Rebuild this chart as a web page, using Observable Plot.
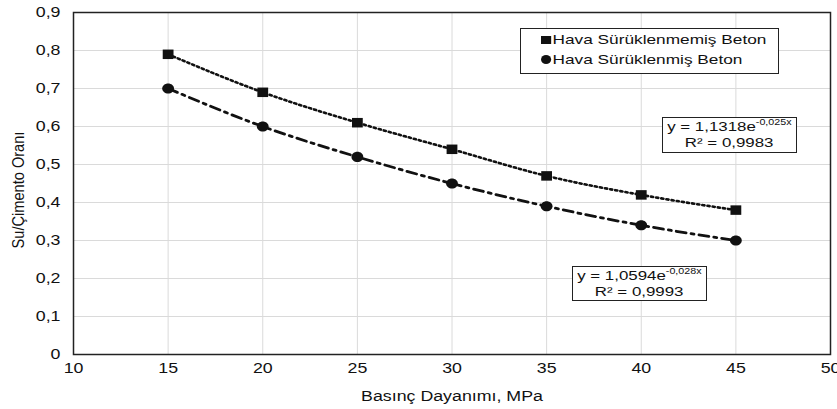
<!DOCTYPE html>
<html>
<head>
<meta charset="utf-8">
<script src="https://cdn.jsdelivr.net/npm/d3@7"></script>
<script src="https://cdn.jsdelivr.net/npm/@observablehq/plot@0.6"></script>
<style>
  html, body { margin: 0; padding: 0; background: #fff; }
  #wrap { position: relative; width: 837px; height: 409px; font-family: "Liberation Sans", Arial, sans-serif; color: #111; }
  .box { position: absolute; border: 1.5px solid #222; background: #fff; box-sizing: border-box; }
  .eq { text-align: center; font-size: 13.4px; line-height: 16px; padding-top: 1px; }
  .eq .s { display: inline-block; transform: scaleX(1.26); transform-origin: 50% 50%; white-space: nowrap; }
  .eq sup { font-size: 8.5px; vertical-align: 6px; line-height: 0; }
  .leg { padding-left: 20px; font-size: 13.6px; line-height: 20px; padding-top: 1px; }
  .leg .s { display: inline-block; transform: scaleX(1.27); transform-origin: 0 50%; white-space: nowrap; }
  .leg .m { display: inline-block; width: 8px; height: 8.5px; background: #111; margin-right: 1px; vertical-align: 0px; }
  .leg .c { border-radius: 50%; height: 9px; }
  .ylab { position: absolute; left: 19px; top: 190px; font-size: 14.6px; white-space: nowrap; transform: translate(-50%, -50%) rotate(-90deg) scaleY(1.08); }
</style>
</head>
<body>
<div id="wrap"></div>
<script>
const strength = [15, 20, 25, 30, 35, 40, 45];
const nonAirEntrained = [0.79, 0.69, 0.61, 0.54, 0.47, 0.42, 0.38];
const airEntrained = [0.70, 0.60, 0.52, 0.45, 0.39, 0.34, 0.30];
const seriesNames = ["Hava Sürüklenmemiş Beton", "Hava Sürüklenmiş Beton"];
const xTicks = [10, 15, 20, 25, 30, 35, 40, 45, 50];
const yTicks = [0, 0.1, 0.2, 0.3, 0.4, 0.5, 0.6, 0.7, 0.8, 0.9];
const xTitle = "Basınç Dayanımı, MPa";
const yTitle = "Su/Çimento Oranı";

const dataA = strength.map((x, i) => ({x, y: nonAirEntrained[i]}));
const dataB = strength.map((x, i) => ({x, y: airEntrained[i]}));

const fmt = d => d === 0 ? "0" : d.toFixed(1).replace(".", ",");

// slightly wide marker shapes (the reference is horizontally stretched)
const wideSquare = {draw(ctx, size) { const r = Math.sqrt(size / Math.PI); const w = r, h = r * 0.88; ctx.moveTo(-w, -h); ctx.lineTo(w, -h); ctx.lineTo(w, h); ctx.lineTo(-w, h); ctx.closePath(); }};
const wideCircle = {draw(ctx, size) {
  const r = Math.sqrt(size / Math.PI); const a = r, b = r * 0.86, k = 0.5523;
  ctx.moveTo(a, 0);
  ctx.bezierCurveTo(a, b * k, a * k, b, 0, b);
  ctx.bezierCurveTo(-a * k, b, -a, b * k, -a, 0);
  ctx.bezierCurveTo(-a, -b * k, -a * k, -b, 0, -b);
  ctx.bezierCurveTo(a * k, -b, a, -b * k, a, 0);
  ctx.closePath();
}};

const chart = Plot.plot({
  width: 837,
  height: 409,
  marginLeft: 73,
  marginRight: 7,
  marginTop: 12,
  marginBottom: 55,
  style: {fontFamily: "Liberation Sans, Arial, sans-serif", fontSize: "14px", color: "#111", background: "#fff"},
  x: {domain: [10, 50], ticks: xTicks},
  y: {domain: [0, 0.9], ticks: yTicks},
  marks: [
    Plot.gridX(xTicks, {stroke: "#dadada", strokeOpacity: 1, strokeWidth: 1}),
    Plot.gridY(yTicks, {stroke: "#dadada", strokeOpacity: 1, strokeWidth: 1}),
    Plot.axisX({ticks: xTicks, tickSize: 0, tickPadding: 9, tickFormat: d => d, label: xTitle, labelAnchor: "center", labelArrow: "none", labelOffset: 46}),
    Plot.axisY({ticks: yTicks, tickSize: 0, tickPadding: 13, tickFormat: fmt, label: null}),
    Plot.line(dataA, {x: "x", y: "y", curve: "monotone-x", stroke: "#111", strokeWidth: 2.6, strokeDasharray: "2.2,3"}),
    Plot.line(dataB, {x: "x", y: "y", curve: "monotone-x", stroke: "#111", strokeWidth: 2.8, strokeDasharray: "10,5,3,5"}),
    Plot.dot(dataA, {x: "x", y: "y", symbol: wideSquare, r: 5.4, fill: "#111", stroke: "none"}),
    Plot.dot(dataB, {x: "x", y: "y", symbol: wideCircle, r: 5.9, fill: "#111", stroke: "none"}),
    Plot.frame({stroke: "#222", strokeWidth: 1.5})
  ]
});
const wrap = document.getElementById("wrap");
wrap.appendChild(chart);

// horizontal stretch of horizontal texts
const SX = 1.27;
chart.querySelectorAll('[aria-label="x-axis tick label"] text, [aria-label="y-axis tick label"] text, [aria-label="x-axis label"] text').forEach(t => {
  const L = t.getComputedTextLength();
  t.setAttribute("textLength", (L * SX).toFixed(2));
  t.setAttribute("lengthAdjust", "spacingAndGlyphs");
});

const ylab = document.createElement("div");
ylab.className = "ylab";
ylab.textContent = yTitle;
wrap.appendChild(ylab);

const leg = document.createElement("div");
leg.className = "box leg";
leg.style.cssText = "left:520px;top:28px;width:259px;height:46px;";
leg.innerHTML = `<div><span class="s"><span class="m"></span>${seriesNames[0]}</span></div><div><span class="s"><span class="m c"></span>${seriesNames[1]}</span></div>`;
wrap.appendChild(leg);

const eq1 = document.createElement("div");
eq1.className = "box eq";
eq1.style.cssText = "left:662px;top:117px;width:135px;height:36px;";
eq1.innerHTML = `<span class="s">y = 1,1318e<sup>-0,025x</sup></span><br><span class="s">R² = 0,9983</span>`;
wrap.appendChild(eq1);

const eq2 = document.createElement("div");
eq2.className = "box eq";
eq2.style.cssText = "left:572px;top:266px;width:135px;height:35px;";
eq2.innerHTML = `<span class="s">y = 1,0594e<sup>-0,028x</sup></span><br><span class="s">R² = 0,9993</span>`;
wrap.appendChild(eq2);
</script>
</body>
</html>
